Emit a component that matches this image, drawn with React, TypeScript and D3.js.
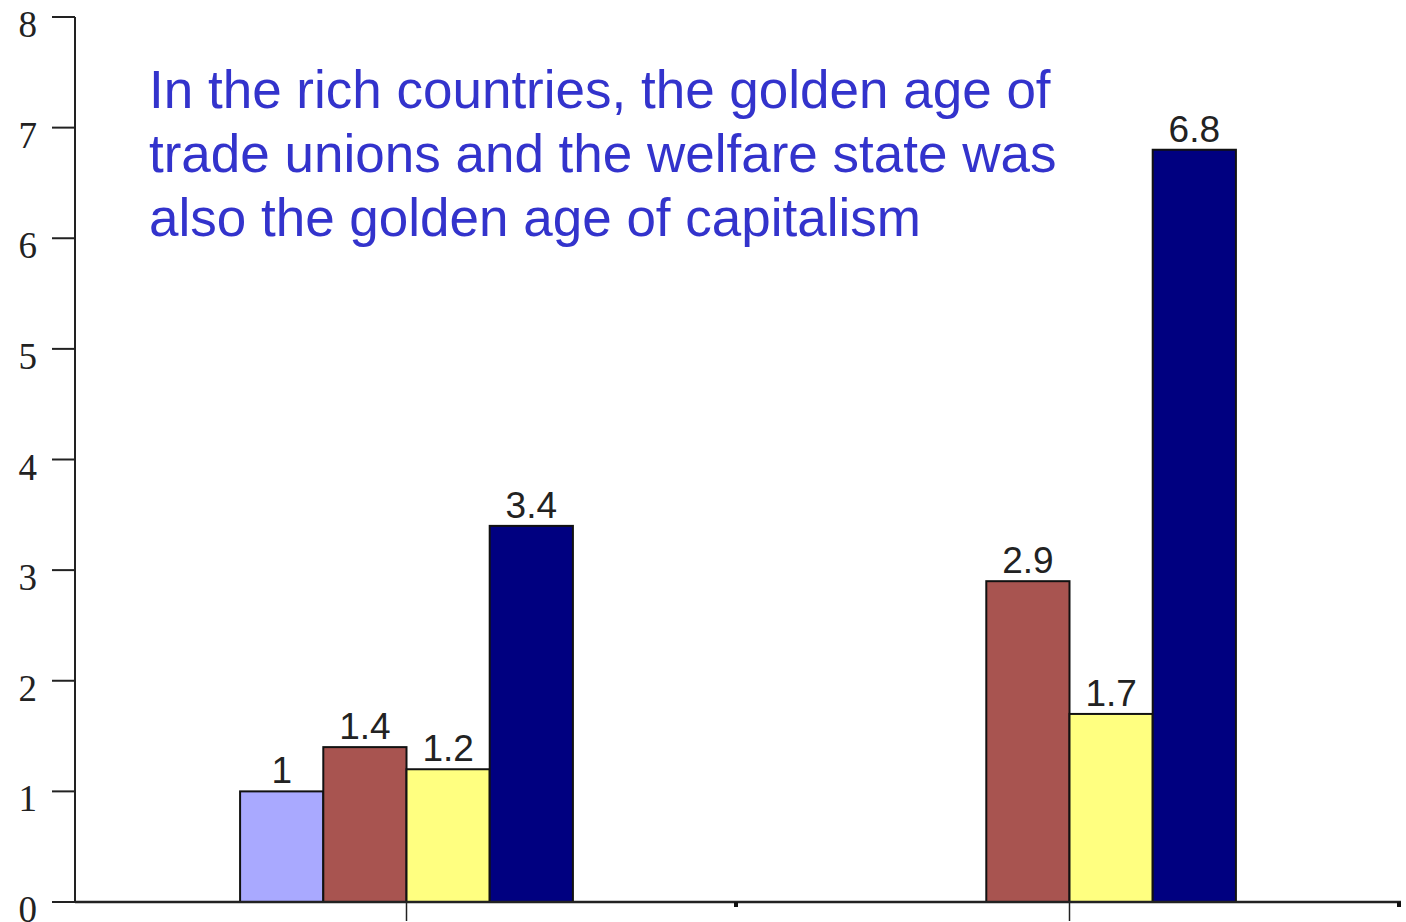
import React from "react";
import * as d3 from "d3";

const categories = ["Group A", "Group B"];
const seriesNames = ["S1", "S2", "S3", "S4"];
const seriesColors = ["#A9A9FF", "#A85450", "#FFFF80", "#000080"];
const valuesA: (number | null)[] = [1, 1.4, 1.2, 3.4];
const valuesB: (number | null)[] = [null, 2.9, 1.7, 6.8];
const yTicks = [0, 1, 2, 3, 4, 5, 6, 7, 8];
const titleLines = [
  "In the rich countries, the golden age of",
  "trade unions and the welfare state was",
  "also the golden age of capitalism",
];

const W = 1406;
const H = 922;

export default function App() {
  const x = d3.scaleBand<string>().domain(categories).range([75, 1401]).paddingInner(0).paddingOuter(0);
  const y = d3.scaleLinear().domain([0, 8]).range([902, 17]);
  const groupW = x.bandwidth() * 0.502;
  const inner = d3.scaleBand<string>().domain(seriesNames).range([0, groupW]).padding(0);
  const data = [valuesA, valuesB];

  return (
    <svg width={W} height={H} style={{ position: "absolute", left: 0, top: 0, background: "#fff" }}>
      {/* y axis */}
      <line x1={75} x2={75} y1={y(8)} y2={y(0)} stroke="#222" strokeWidth={2} />
      {yTicks.map((t) => (
        <g key={t}>
          <line x1={52} x2={75} y1={y(t)} y2={y(t)} stroke="#222" strokeWidth={2} />
          <text
            x={37}
            y={y(t) + 20}
            textAnchor="end"
            fontFamily="'Liberation Serif', 'Times New Roman', serif"
            fontSize={37}
            fill="#222"
          >
            {t}
          </text>
        </g>
      ))}
      {/* bars */}
      {categories.map((c, ci) => {
        const cx = (x(c) as number) + x.bandwidth() / 2;
        const gx = cx - groupW / 2;
        return (
          <g key={c}>
            {data[ci].map((v, si) => {
              if (v === null) return null;
              const bx = gx + (inner(seriesNames[si]) as number);
              const bw = inner.bandwidth();
              return (
                <g key={si}>
                  <rect
                    x={bx}
                    y={y(v)}
                    width={bw}
                    height={y(0) - y(v)}
                    fill={seriesColors[si]}
                    stroke="#111"
                    strokeWidth={2}
                  />
                  <text
                    x={bx + bw / 2}
                    y={y(v) - 8}
                    textAnchor="middle"
                    fontFamily="'Liberation Sans', Arial, sans-serif"
                    fontSize={37}
                    fill="#222"
                  >
                    {String(v)}
                  </text>
                </g>
              );
            })}
          </g>
        );
      })}
      {/* x axis */}
      <line x1={75} x2={1401} y1={y(0)} y2={y(0)} stroke="#222" strokeWidth={2.5} />
      {categories.map((c) => {
        const cx = (x(c) as number) + x.bandwidth() / 2;
        const right = (x(c) as number) + x.bandwidth();
        return (
          <g key={c}>
            <line x1={cx} x2={cx} y1={y(0)} y2={921} stroke="#222" strokeWidth={1.5} />
            <rect x={right - 4} y={y(0)} width={4} height={5} fill="#111" />
          </g>
        );
      })}
      {/* title */}
      {titleLines.map((l, i) => (
        <text
          key={i}
          x={149}
          y={108 + i * 64}
          fontFamily="'Liberation Sans', Arial, sans-serif"
          fontSize={53}
          fill="#3333CC"
        >
          {l}
        </text>
      ))}
    </svg>
  );
}
